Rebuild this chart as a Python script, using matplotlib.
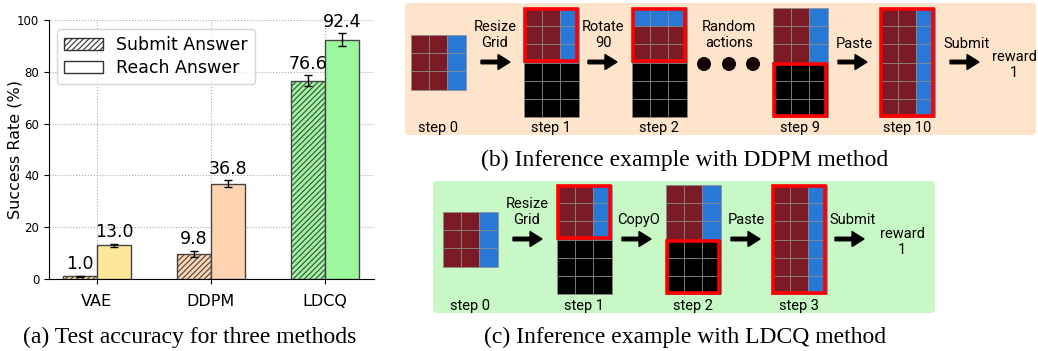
import numpy as np
import matplotlib.pyplot as plt
import matplotlib as mpl
from matplotlib.patches import Rectangle, Circle, FancyBboxPatch, Patch

mpl.rcParams['font.family'] = 'DejaVu Sans'
mpl.rcParams['hatch.linewidth'] = 0.8

# ---------------- bar chart data ----------------
methods = ['VAE', 'DDPM', 'LDCQ']
submit = [1.0, 9.8, 76.6]
reach = [13.0, 36.8, 92.4]
submit_err = [0.3, 1.2, 2.0]
reach_err = [0.5, 1.3, 2.5]
bar_colors = ['#ffe699', '#ffd3b0', '#9cf89c']

# ---------------- diagram data ----------------
# grids as rows of cells: M maroon, B blue, K black
grid_b = [['MMB'] * 3,
          ['MMB'] * 3 + ['KKK'] * 3,
          ['BBB', 'MMM', 'MMM'] + ['KKK'] * 3,
          ['MMB'] * 3 + ['KKK'] * 3,
          ['MMB'] * 6]
red_b = [None, (0, 3), (0, 3), (3, 6), (0, 6)]
steps_b = ['step 0', 'step 1', 'step 2', 'step 9', 'step 10']
actions_b = ['Resize\nGrid', 'Rotate\n90', 'Random\nactions', 'Paste', 'Submit']

grid_c = [['MMB'] * 3,
          ['MMB'] * 3 + ['KKK'] * 3,
          ['MMB'] * 3 + ['KKK'] * 3,
          ['MMB'] * 6]
red_c = [None, (0, 3), (3, 6), (0, 6)]
steps_c = ['step 0', 'step 1', 'step 2', 'step 3']
actions_c = ['Resize\nGrid', 'CopyO', 'Paste', 'Submit']

cell_col = {'M': '#7a1b25', 'B': '#2878d6', 'K': '#000000'}

W, H = 1038, 351
fig = plt.figure(figsize=(W / 100, H / 100), dpi=100)

# canvas in pixel coordinates for the diagrams and captions
cv = fig.add_axes([0, 0, 1, 1])
cv.set_xlim(0, W)
cv.set_ylim(H, 0)
cv.axis('off')

# ---------------- bar chart ----------------
ax = fig.add_axes([49 / W, (H - 279) / H, (374 - 49) / W, (279 - 20) / H])
x = np.arange(len(methods))
bw = 0.3
ax.bar(x - bw / 2, submit, bw, yerr=submit_err, color=bar_colors, edgecolor='#444444',
       linewidth=1, hatch='//////', capsize=3, error_kw=dict(lw=1, ecolor='k'), zorder=3)
ax.bar(x + bw / 2, reach, bw, yerr=reach_err, color=bar_colors, edgecolor='#444444',
       linewidth=1, capsize=3, error_kw=dict(lw=1, ecolor='k'), zorder=3)
for i in range(len(methods)):
    ax.text(x[i] - bw / 2, submit[i] + submit_err[i] + 1.0, '%.1f' % submit[i],
            ha='center', va='bottom', fontsize=12.5)
    ax.text(x[i] + bw / 2, reach[i] + reach_err[i] + 1.0, '%.1f' % reach[i],
            ha='center', va='bottom', fontsize=12.5)
ax.set_xlim(-0.42, 2.43)
ax.set_ylim(0, 100)
ax.set_xticks(x)
ax.set_xticklabels(methods, fontsize=11.5)
ax.set_yticks(range(0, 101, 20))
ax.tick_params(axis='y', labelsize=8.5)
ax.tick_params(axis='x', pad=7)
ax.set_ylabel('Success Rate (%)', fontsize=11.5)
ax.yaxis.set_label_coords(-0.083, 0.5)
ax.grid(True, linestyle=':', color='#aaaaaa', linewidth=0.8, zorder=0)
ax.spines['top'].set_visible(False)
ax.spines['right'].set_visible(False)
handles = [Patch(facecolor='white', edgecolor='#333333', hatch='//////', label='Submit Answer'),
           Patch(facecolor='white', edgecolor='#333333', label='Reach Answer')]
ax.legend(handles=handles, loc='upper left', fontsize=12.5, framealpha=0.8,
          bbox_to_anchor=(0.01, 0.985), borderaxespad=0.3, handlelength=2.2,
          labelspacing=0.3)


# ---------------- diagrams ----------------
def draw_grid(x0, y0, rows, red, cs=18.2):
    for r, row in enumerate(rows):
        for c, ch in enumerate(row):
            cv.add_patch(Rectangle((x0 + c * cs, y0 + r * cs), cs, cs,
                                   facecolor=cell_col[ch], edgecolor='#8c8c8c', lw=0.5))
    if red is not None:
        cv.add_patch(Rectangle((x0 + 1.2, y0 + red[0] * cs + 1.2), 3 * cs - 2.4,
                               (red[1] - red[0]) * cs - 2.4, fill=False,
                               edgecolor='#ff0000', lw=2.6, zorder=5))
    return x0 + 1.5 * cs


def arrow(xa, y):
    cv.arrow(xa, y, 29, 0, width=3.5, head_width=15, head_length=12,
             length_includes_head=True, color='k', zorder=4)


tf = dict(family='Roboto', fontsize=10.5, ha='center', color='k')

# (b) DDPM
cv.add_patch(FancyBboxPatch((405, 3), 631, 132, boxstyle='round,pad=0,rounding_size=4',
                            facecolor='#ffe4cc', edgecolor='none', zorder=0))
gx_b = [411, 524, 632, 773, 880]
gy_b = [35, 8, 8, 8, 8]
for gx, gy, rows, red, lab in zip(gx_b, gy_b, grid_b, red_b, steps_b):
    cx = draw_grid(gx, gy, rows, red)
    cv.text(cx, 128, lab, va='center', **tf)
ax_pos_b = [481, 588, None, 838, 950]
tx_b = [495, 603, 729, 854, 967]
for xa, tx, lab in zip(ax_pos_b, tx_b, actions_b):
    if xa is not None:
        arrow(xa, 62)
    ty = 35 if '\n' in lab else 44
    cv.text(tx, ty, lab, va='center', linespacing=1.2, **tf)
for dx in [704, 729, 753]:
    cv.add_patch(Circle((dx, 64), 6.3, color='#140404', zorder=4))
cv.text(1014, 65, 'reward\n1', va='center', linespacing=1.2, **tf)

# (c) LDCQ
cv.add_patch(FancyBboxPatch((433, 181), 502, 132, boxstyle='round,pad=0,rounding_size=4',
                            facecolor='#c8f8c6', edgecolor='none', zorder=0))
gx_c = [443, 557, 666, 772]
gy_c = [212, 185, 185, 185]
for gx, gy, rows, red, lab in zip(gx_c, gy_c, grid_c, red_c, steps_c):
    cx = draw_grid(gx, gy, rows, red)
    cv.text(cx, 306, lab, va='center', **tf)
ax_pos_c = [513, 622, 731, 835]
tx_c = [527, 639, 746, 853]
for xa, tx, lab in zip(ax_pos_c, tx_c, actions_c):
    arrow(xa, 239)
    ty = 212 if '\n' in lab else 220
    cv.text(tx, ty, lab, va='center', linespacing=1.2, **tf)
cv.text(902, 242, 'reward\n1', va='center', linespacing=1.2, **tf)

# captions
cf = dict(family='Liberation Serif', fontsize=17, ha='center', va='center', color='k')
cv.text(190, 337, '(a) Test accuracy for three methods', **cf)
cv.text(685, 160, '(b) Inference example with DDPM method', **cf)
cv.text(685, 337, '(c) Inference example with LDCQ method', **cf)

fig.savefig('out.png', dpi=100)
